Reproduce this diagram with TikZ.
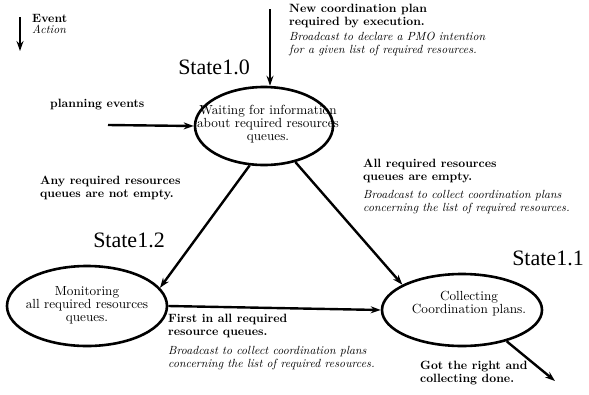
\documentclass[tikz,border=0pt]{standalone}
\usepackage{fontspec}
\setmainfont{lmroman10-regular.otf}[BoldFont=lmroman10-bold.otf, ItalicFont=lmroman10-italic.otf, BoldItalicFont=lmroman10-bolditalic.otf]
\newfontfamily\statefont{Liberation Serif}
\usetikzlibrary{arrows.meta,shapes.geometric}
\begin{document}
\begin{tikzpicture}[x=1pt,y=-1pt,
  st/.style={draw, ellipse, line width=2.6pt, inner sep=0pt},
  arr/.style={line width=2.4pt, -{Stealth[length=10pt,width=7pt]}},
  ev/.style={font=\fontsize{12}{12.8}\selectfont\bfseries, align=left, anchor=north west, inner sep=0pt},
  act/.style={font=\fontsize{11.8}{13}\selectfont\itshape, align=left, anchor=north west, inner sep=0pt},
  lab/.style={font={\statefont\fontsize{22}{24}\selectfont}, inner sep=0pt},
  intext/.style={font=\fontsize{13.2}{13}\selectfont, align=center, inner sep=0pt}]
\useasboundingbox (0,0) rectangle (589,394);

% states
\node[st, minimum width=138pt, minimum height=78pt] (s10) at (264,126) {};
\node[st, minimum width=160pt, minimum height=80pt] (s12) at (87,306) {};
\node[st, minimum width=160pt, minimum height=72pt] (s11) at (462,310) {};

\node[intext] (t10) at (268,124) {Waiting for information\\about required resources\\queues.};
\node[intext] (t12) at (87,305) {Monitoring\\all required resources\\queues.};
\node[intext] (t11) at (469,304) {Collecting\\Coordination plans.};

\node[lab] (l10) at (214,67) {State1.0};
\node[lab] (l12) at (129,240) {State1.2};
\node[lab] (l11) at (548,258) {State1.1};

% legend
\coordinate (lgtop) at (20,17);
\coordinate (lgbot) at (20,51);
\draw[arr] (lgtop) -- (lgbot);
\node[ev] (lgev) at (32,14) {Event};
\node[act, font=\fontsize{11.8}{11}\selectfont\itshape] (lgact) at (32,25) {Action};

% top arrow
\coordinate (topc) at (270,9);
\draw[arr] (topc) -- (topc |- s10.north);
\node[ev] (e1) at (289,4) {New coordination plan\\required by execution.};
\node[act] (a1) at (289,32) {Broadcast to declare a PMO intention\\for a given list of required resources.};

% planning events
\coordinate (pe) at (108,125);
\draw[arr] (pe) -- (s10.west);
\node[ev] (e2) at (50,99) {planning events};

% transitions
\draw[arr] (s10.250) -- (s12.14);
\node[ev] (e3) at (40,176) {Any required resources\\queues are not empty.};

\draw[arr] (s10.-49) -- (s11.157);
\node[ev] (e4) at (363,159) {All required resources\\queues are empty.};
\node[act] (a4) at (363,190) {Broadcast to collect coordination plans\\concerning the list of required resources.};

\draw[arr] (s12.east) -- (s11.west);
\node[ev] (e5) at (168,314) {First in all required\\resource queues.};
\node[act] (a5) at (168,346) {Broadcast to collect coordination plans\\concerning the list of required resources.};

\coordinate (exit) at (555,381);
\draw[arr] (s11.-35) -- (exit);
\node[ev] (e6) at (420,361) {Got the right and\\collecting done.};
\end{tikzpicture}
\end{document}
